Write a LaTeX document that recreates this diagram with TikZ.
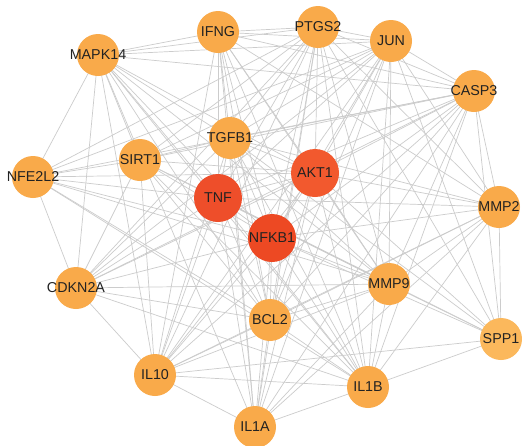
\documentclass[tikz,border=0pt]{standalone}
\usepackage{fontspec}
\setmainfont{Liberation Sans}
\definecolor{hubA}{HTML}{EE4E2A}
\definecolor{hubB}{HTML}{ED4923}
\definecolor{hubC}{HTML}{F2592E}
\definecolor{orng}{HTML}{F9AA4A}
\definecolor{orngL}{HTML}{FBB85C}
\definecolor{edgec}{HTML}{CCCCCC}
\definecolor{txt}{HTML}{222222}
\begin{document}
\begin{tikzpicture}[x=1pt,y=-1pt,
  gene/.style={circle,fill=orng,minimum size=42pt,inner sep=0pt},
  hub/.style={gene,minimum size=48pt},
  lbl/.style={inner sep=0pt,text=txt,font=\fontsize{14.3}{14}\selectfont},
  edge/.style={draw=edgec,line width=0.7pt}]
\useasboundingbox (0,0) rectangle (522,445);
\fill[white] (0,0) rectangle (522,445);
% node coordinates
\coordinate (pMAPK14) at (98,55);
\coordinate (pIFNG) at (218,32);
\coordinate (pPTGS2) at (318,27);
\coordinate (pJUN) at (391,41);
\coordinate (pCASP3) at (474,91);
\coordinate (pTGFB1) at (230,138);
\coordinate (pSIRT1) at (140,160);
\coordinate (pNFE2L2) at (33,177);
\coordinate (pTNF) at (218,198);
\coordinate (pAKT1) at (315,173);
\coordinate (pNFKB1) at (272,238);
\coordinate (pMMP2) at (499,207);
\coordinate (pCDKN2A) at (76,288);
\coordinate (pMMP9) at (389,284);
\coordinate (pBCL2) at (270,320);
\coordinate (pSPP1) at (501,339);
\coordinate (pIL10) at (155,375);
\coordinate (pIL1B) at (368,387);
\coordinate (pIL1A) at (255,427);
% edges
\foreach \h in {TNF,AKT1,NFKB1}{
  \foreach \o in {MAPK14,IFNG,PTGS2,JUN,CASP3,TGFB1,SIRT1,NFE2L2,MMP2,CDKN2A,MMP9,BCL2,SPP1,IL10,IL1B,IL1A}{
    \draw[edge] (p\h) -- (p\o);}}
\draw[edge] (pTNF) -- (pAKT1) (pTNF) -- (pNFKB1) (pAKT1) -- (pNFKB1);
\foreach \a/\b in {IFNG/PTGS2,IFNG/JUN,IFNG/CASP3,IFNG/IL1B,IFNG/MMP9,IFNG/BCL2,IFNG/IL10,IFNG/TGFB1,IFNG/MAPK14,
  PTGS2/JUN,PTGS2/CASP3,PTGS2/IL1B,PTGS2/MMP9,PTGS2/BCL2,PTGS2/IL10,PTGS2/TGFB1,PTGS2/MAPK14,
  JUN/CASP3,JUN/IL1B,JUN/MMP9,JUN/BCL2,JUN/IL10,JUN/TGFB1,JUN/MAPK14,
  CASP3/IL1B,CASP3/MMP9,CASP3/BCL2,CASP3/IL10,CASP3/TGFB1,CASP3/MAPK14,
  IL1B/MMP9,IL1B/BCL2,IL1B/IL10,IL1B/TGFB1,IL1B/MAPK14,
  MMP9/BCL2,MMP9/IL10,MMP9/TGFB1,MMP9/MAPK14,
  BCL2/IL10,BCL2/TGFB1,BCL2/MAPK14,
  IL10/TGFB1,IL10/MAPK14,TGFB1/MAPK14,
  SPP1/MMP2,SPP1/CASP3,SPP1/JUN,SPP1/PTGS2,SPP1/MMP9,SPP1/IL1B,SPP1/TGFB1,SPP1/IL10,
  NFE2L2/SIRT1,NFE2L2/MAPK14,NFE2L2/JUN,NFE2L2/PTGS2,NFE2L2/CASP3,NFE2L2/BCL2,NFE2L2/IL1B,NFE2L2/MMP9,NFE2L2/CDKN2A,
  CDKN2A/SIRT1,CDKN2A/BCL2,CDKN2A/CASP3,CDKN2A/JUN,CDKN2A/PTGS2,CDKN2A/MMP9,CDKN2A/IL1B,CDKN2A/IL10,CDKN2A/MAPK14,CDKN2A/TGFB1,
  SIRT1/MAPK14,SIRT1/BCL2,SIRT1/CASP3,SIRT1/PTGS2,SIRT1/MMP9,SIRT1/IL1B,SIRT1/JUN,SIRT1/TGFB1,SIRT1/IL10,
  IL1A/IL1B,IL1A/IL10,IL1A/IFNG,IL1A/PTGS2,IL1A/MMP9,IL1A/BCL2,IL1A/CASP3,IL1A/TGFB1,IL1A/MAPK14,IL1A/JUN,IL1A/MMP2,
  MMP2/MMP9,MMP2/CASP3,MMP2/TGFB1,MMP2/JUN,MMP2/PTGS2,MMP2/IL1B,MMP2/BCL2,MMP2/IFNG,MMP2/IL10}{
  \draw[edge] (p\a) -- (p\b);}
% nodes
\foreach \n in {MAPK14,IFNG,PTGS2,JUN,CASP3,TGFB1,SIRT1,NFE2L2,MMP2,CDKN2A,MMP9,BCL2,IL10,IL1B,IL1A}{
  \node[gene] (\n) at (p\n) {};
  \node[lbl] at (\n) {\n};}
\node[gene,fill=orngL] (SPP1) at (pSPP1) {};
\node[lbl] at (SPP1) {SPP1};
\node[hub,fill=hubA] (TNF) at (pTNF) {};
\node[lbl] at (TNF) {TNF};
\node[hub,fill=hubC] (AKT1) at (pAKT1) {};
\node[lbl] at (AKT1) {AKT1};
\node[hub,fill=hubB] (NFKB1) at (pNFKB1) {};
\node[lbl] at (NFKB1) {NFKB1};
\end{tikzpicture}
\end{document}
